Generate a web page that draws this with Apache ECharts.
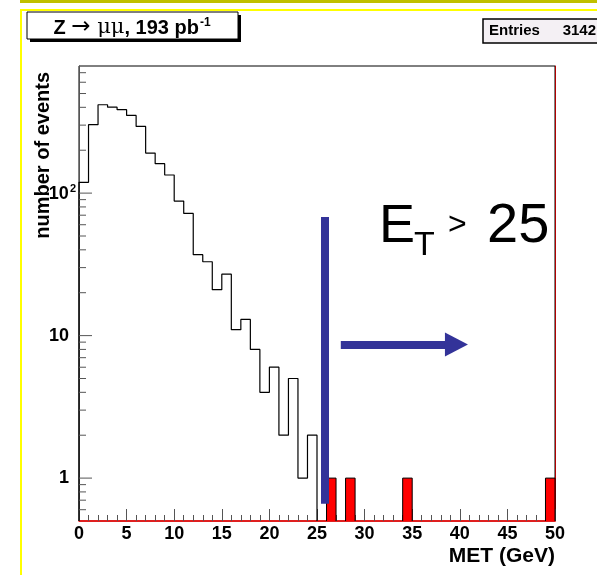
<!DOCTYPE html>
<html lang="en">
<head>
  <meta charset="UTF-8">
  <title>MET</title>
  <script src="https://cdn.jsdelivr.net/npm/echarts@6.0.0/dist/echarts.min.js"></script>
  <style>
    html, body { margin: 0; padding: 0; background: #fff; }
    #main { width: 597px; height: 575px; }
  </style>
</head>
<body>
  <div id="main"></div>
  <script>
    // events per 1 GeV bin, starting at 0 GeV
    let blackCounts = [119, 302, 417, 401, 385, 351, 294, 191, 161, 134, 88, 72, 37, 33, 21, 27, 11, 13, 8, 4, 6, 2, 5, 1, 2];
    // events above the cut
    let redBins = [26, 28, 34, 49];
    let redCounts = [1, 1, 1, 1];
    let xTicks = [0, 5, 10, 15, 20, 25, 30, 35, 40, 45, 50];
    let yMajorTicks = [1, 10, 100];
    let yMinorTicks = [0.6, 0.7, 0.8, 0.9, 2, 3, 4, 5, 6, 7, 8, 9, 20, 30, 40, 50, 60, 70, 80, 90, 200, 300, 400, 500, 600, 700];
    // hand drawn cut marker and arrow (data coords)
    let cutLine = [[25.84, 68], [25.84, 0.66]];
    let arrowLine = [[27.5, 8.65], [39.65, 8.65]];
    let yMin = 0.5, yMax = 780;
  </script>
  <script>
    let dom = document.getElementById('main');
    let chart = echarts.init(dom);

    let stepData = [[0, yMin]].concat(blackCounts.map((c, i) => [i, c]), [[blackCounts.length, yMin]]);
    let tickData = yMajorTicks.map(v => [0, v, 13]).concat(yMinorTicks.map(v => [0, v, 7]));

    let font = 'Liberation Sans';

    let option = {
      animation: false,
      backgroundColor: '#fff',
      textStyle: { fontFamily: font },
      grid: {
        left: 79, right: 42, top: 66, bottom: 54,
        show: true, borderColor: '#000', borderWidth: 1, backgroundColor: 'transparent'
      },
      xAxis: {
        type: 'value',
        min: 0, max: 50, interval: 5,
        axisLine: { show: true, lineStyle: { color: '#ff0000', width: 1.5 } },
        axisTick: { show: true, inside: true, length: 12, lineStyle: { color: '#555' } },
        minorTick: { show: true, splitNumber: 5, length: 6, lineStyle: { color: '#555' } },
        splitLine: { show: false },
        axisLabel: {
          color: '#000', fontSize: 18, fontWeight: 'bold', margin: 4,
          formatter: v => xTicks.indexOf(v) >= 0 ? String(v) : ''
        }
      },
      yAxis: [{
        type: 'log', logBase: 10,
        min: yMin, max: yMax,
        axisLine: { show: true, lineStyle: { color: '#555' } },
        axisTick: { show: false },
        splitLine: { show: false },
        axisLabel: {
          showMinLabel: false, showMaxLabel: false,
          color: '#000', margin: 3,
          formatter: v => {
            let r = Math.round(v);
            if (r === 100) return '{b|10}{s|2}';
            if (r === 1 || r === 10) return '{n|' + r + '}';
            return '';
          },
          rich: {
            n: { fontSize: 18, fontWeight: 'bold', padding: [0, 7, 0, 0] },
            b: { fontSize: 18, fontWeight: 'bold', verticalAlign: 'bottom' },
            s: { fontSize: 11, fontWeight: 'bold', verticalAlign: 'bottom', padding: [0, 0, 9, 1] }
          }
        }
      }, {
        type: 'log', logBase: 10, position: 'right',
        min: yMin, max: yMax,
        axisLine: { show: true, lineStyle: { color: '#b00000' } },
        axisTick: { show: false }, axisLabel: { show: false }, splitLine: { show: false }
      }],
      series: [
        {
          type: 'custom', name: 'above cut',
          coordinateSystem: 'cartesian2d',
          data: redBins.map((b, i) => [b, redCounts[i]]),
          renderItem: (params, api) => {
            let a = api.coord([api.value(0), api.value(1)]);
            let b = api.coord([api.value(0) + 1, yMin]);
            return {
              type: 'group',
              children: [
                { type: 'rect', shape: { x: a[0], y: a[1], width: b[0] - a[0], height: b[1] - a[1] }, style: { fill: '#ff0000' } },
                { type: 'polyline', shape: { points: [[a[0], b[1]], [a[0], a[1]], [b[0], a[1]], [b[0], b[1]]] }, style: { fill: null, stroke: '#000', lineWidth: 1 } }
              ]
            };
          },
          z: 2
        },
        {
          type: 'line', name: 'MET',
          step: 'end',
          data: stepData,
          symbol: 'none',
          lineStyle: { color: '#000', width: 1.2 },
          z: 3,
          markLine: {
            silent: true,
            symbol: ['none', 'none'],
            label: { show: false },
            emphasis: { disabled: true },
            lineStyle: { color: '#333399', width: 8, type: 'solid' },
            data: [
              [{ coord: cutLine[0] }, { coord: cutLine[1] }],
              [{ coord: arrowLine[0] }, { coord: arrowLine[1], symbol: 'triangle', symbolSize: [24, 23] }]
            ]
          }
        },
        {
          type: 'custom', name: 'log ticks',
          coordinateSystem: 'cartesian2d',
          data: tickData,
          encode: { x: 0, y: 1 },
          renderItem: (params, api) => {
            let p = api.coord([0, api.value(1)]);
            return {
              type: 'line',
              shape: { x1: p[0], y1: p[1], x2: p[0] + api.value(2), y2: p[1] },
              style: { stroke: '#555', lineWidth: 1 }
            };
          },
          silent: true,
          z: 4
        }
      ],
      graphic: [
        // slide frame
        { type: 'rect', shape: { x: 20, y: 0, width: 577, height: 3 }, style: { fill: '#c0c000' }, silent: true },
        { type: 'rect', shape: { x: 20, y: 9, width: 577, height: 2 }, style: { fill: '#ffff00' }, silent: true },
        { type: 'rect', shape: { x: 20, y: 9, width: 2, height: 566 }, style: { fill: '#ffff00' }, silent: true },
        // title box
        { type: 'rect', shape: { x: 30, y: 15, width: 211, height: 27 }, style: { fill: '#000' }, silent: true },
        { type: 'rect', shape: { x: 27, y: 12, width: 211, height: 27 }, style: { fill: '#fff', stroke: '#000', lineWidth: 1 }, silent: true },
        {
          type: 'text', x: 132, y: 27, silent: true,
          style: {
            text: '{z|Z }{a|\u2192}{m| \u03bc\u03bc}{z|, 193 pb}{s|-1}',
            align: 'center', verticalAlign: 'middle', fill: '#000',
            rich: {
              z: { fontFamily: font, fontWeight: 'bold', fontSize: 20, verticalAlign: 'bottom' },
              a: { fontFamily: 'DejaVu Sans', fontSize: 23, verticalAlign: 'bottom' },
              m: { fontFamily: 'DejaVu Serif', fontSize: 21, verticalAlign: 'bottom' },
              s: { fontFamily: font, fontWeight: 'bold', fontSize: 12, verticalAlign: 'bottom', padding: [0, 0, 10, 1] }
            }
          }
        },
        // stats box
        { type: 'rect', shape: { x: 483, y: 19, width: 120, height: 24 }, style: { fill: '#f4f0f4', stroke: '#000', lineWidth: 1.5 }, silent: true },
        { type: 'text', x: 489, y: 31, silent: true, style: { text: 'Entries', font: 'bold 15px "Liberation Sans"', fill: '#000', align: 'left', verticalAlign: 'middle' } },
        { type: 'text', x: 596, y: 31, silent: true, style: { text: '3142', font: 'bold 15px "Liberation Sans"', fill: '#000', align: 'right', verticalAlign: 'middle' } },
        // axis titles
        { type: 'text', x: 43, y: 72, rotation: Math.PI / 2, silent: true, style: { text: 'number of events', font: 'bold 20px "Liberation Sans"', fill: '#000', align: 'right', verticalAlign: 'middle' } },
        { type: 'text', x: 555, y: 556, silent: true, style: { text: 'MET (GeV)', font: 'bold 21px "Liberation Sans"', fill: '#000', align: 'right', verticalAlign: 'middle' } },
        // cut annotation
        { type: 'text', x: 379, y: 227, silent: true, style: { text: 'E', font: '54px "Liberation Sans"', fill: '#000', align: 'left', verticalAlign: 'middle' } },
        { type: 'text', x: 414, y: 246, silent: true, style: { text: 'T', font: '34px "Liberation Sans"', fill: '#000', align: 'left', verticalAlign: 'middle' } },
        { type: 'text', x: 448, y: 225, silent: true, style: { text: '>', font: '32px "Liberation Sans"', fill: '#000', align: 'left', verticalAlign: 'middle' } },
        { type: 'text', x: 487, y: 227, silent: true, style: { text: '25', font: '56px "Liberation Sans"', fill: '#000', align: 'left', verticalAlign: 'middle' } }
      ]
    };

    chart.setOption(option);
  </script>
</body>
</html>
